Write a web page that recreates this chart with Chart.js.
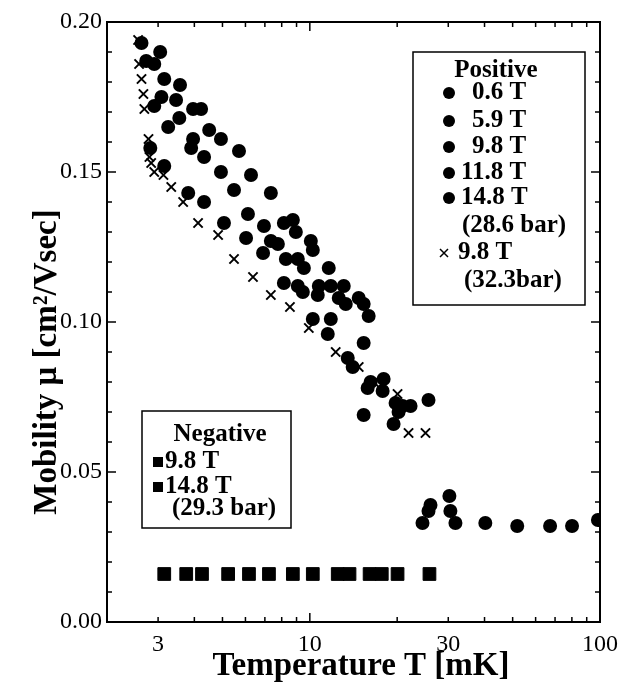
<!DOCTYPE html>
<html>
<head>
<meta charset="utf-8">
<script src="https://cdn.jsdelivr.net/npm/chart.js@4"></script>
<style>
    html, body { margin: 0; padding: 0; background: #fff; }
</style>
</head>
<body>
<canvas id="chart" width="621" height="690"></canvas>
<script>
// temperature [mK] and mobility [cm2/Vsec]
const tPos06 = [3.05, 3.57, 4.22, 4.50, 4.94, 5.70, 6.27, 7.34, 8.74, 8.95, 10.08, 11.62, 13.09, 14.74, 15.95,
    24.45, 26.05, 25.64, 30.27, 30.51, 31.75, 40.25, 51.85, 67.3, 80.1, 98.4];
const muPos06 = [0.190, 0.179, 0.171, 0.164, 0.161, 0.157, 0.149, 0.143, 0.134, 0.130, 0.127, 0.118, 0.112, 0.108, 0.102,
    0.033, 0.039, 0.037, 0.042, 0.037, 0.033, 0.033, 0.032, 0.032, 0.032, 0.034];

const tPos59 = [2.63, 2.91, 3.15, 3.46, 3.96, 4.32, 4.94, 6.12, 6.95, 8.14, 10.24, 11.81, 13.30, 15.33];
const muPos59 = [0.193, 0.186, 0.181, 0.174, 0.171, 0.155, 0.150, 0.136, 0.132, 0.133, 0.124, 0.112, 0.106, 0.106];

const tPos98 = [2.73, 3.08, 3.55, 3.96, 5.48, 7.76, 9.09, 9.54, 10.74, 12.58, 15.33, 17.96, 20.87, 25.64];
const muPos98 = [0.187, 0.175, 0.168, 0.161, 0.144, 0.126, 0.121, 0.118, 0.112, 0.108, 0.093, 0.081, 0.072, 0.074];

const tPos118 = [2.91, 3.25, 3.90, 5.06, 6.03, 7.34, 8.27, 9.09, 10.65, 11.81, 13.51, 16.20, 17.82, 19.75, 22.24, 20.22];
const muPos118 = [0.172, 0.165, 0.158, 0.133, 0.128, 0.127, 0.121, 0.112, 0.109, 0.101, 0.088, 0.080, 0.077, 0.073, 0.072, 0.070];

const tPos148 = [2.82, 3.15, 3.81, 4.32, 6.90, 8.14, 9.46, 10.24, 11.53, 14.05, 15.82, 15.33, 19.44];
const muPos148 = [0.158, 0.152, 0.143, 0.140, 0.123, 0.113, 0.110, 0.101, 0.096, 0.085, 0.078, 0.069, 0.066];

// crosses, 9.8 T at 32.3 bar
const tPos98hp = [2.56, 2.58, 2.63, 2.67, 2.69, 2.78, 2.80, 2.84, 2.91, 3.13, 3.33, 3.66, 4.12, 4.83, 5.48, 6.37,
    7.34, 8.54, 9.92, 12.28, 14.74, 16.60, 20.06, 21.89, 21.89, 25.04];
const muPos98hp = [0.194, 0.186, 0.181, 0.176, 0.171, 0.161, 0.155, 0.153, 0.150, 0.149, 0.145, 0.140, 0.133, 0.129, 0.121, 0.115,
    0.109, 0.105, 0.098, 0.090, 0.085, 0.080, 0.076, 0.072, 0.063, 0.063];

// negative ions
const tNeg98 = [3.15, 4.25, 6.17, 8.74, 12.48, 16.07, 20.06, 25.84];
const muNeg98 = [0.016, 0.016, 0.016, 0.016, 0.016, 0.016, 0.016, 0.016];
const tNeg148 = [3.75, 5.23, 7.23, 10.24, 13.7, 17.7];
const muNeg148 = [0.016, 0.016, 0.016, 0.016, 0.016, 0.016];

const xTickLabels = [3, 10, 30, 100];
const xMinorTicks = [2, 3, 4, 5, 6, 7, 8, 9, 10, 20, 30, 40, 50, 60, 70, 80, 90, 100];

const serif = "'Liberation Serif', 'Times New Roman', serif";

function zip(xs, ys) {
    return xs.map((x, i) => ({x: x, y: ys[i]}));
}

function dotSet(label, xs, ys) {
    return {
        label: label,
        data: zip(xs, ys),
        pointStyle: 'circle',
        pointRadius: 7,
        backgroundColor: '#000',
        borderColor: '#000',
        borderWidth: 0
    };
}

// frame + inward ticks on all four sides, axis titles, legend boxes
const frameTicks = {
    id: 'frameTicks',
    afterDatasetsDraw(chart) {
        const ctx = chart.ctx;
        const a = chart.chartArea;
        const xs = chart.scales.x, ys = chart.scales.y;
        ctx.save();
        ctx.strokeStyle = '#000';
        ctx.lineWidth = 2;
        ctx.strokeRect(a.left, a.top, a.right - a.left, a.bottom - a.top);
        ctx.lineWidth = 1.5;
        ctx.beginPath();
        xMinorTicks.forEach(v => {
            const px = xs.getPixelForValue(v);
            const len = (v === 10 || v === 100) ? 9 : 5;
            ctx.moveTo(px, a.bottom); ctx.lineTo(px, a.bottom - len);
            ctx.moveTo(px, a.top); ctx.lineTo(px, a.top + len);
        });
        for (let i = 0; i <= 20; i++) {
            const py = ys.getPixelForValue(i * 0.01);
            const len = (i % 5 === 0) ? 9 : 5;
            ctx.moveTo(a.left, py); ctx.lineTo(a.left + len, py);
            ctx.moveTo(a.right, py); ctx.lineTo(a.right - len, py);
        }
        ctx.stroke();
        ctx.restore();
    },
    afterDraw(chart) {
        const ctx = chart.ctx;
        ctx.save();
        ctx.fillStyle = '#000';
        ctx.strokeStyle = '#000';

        // axis titles
        ctx.font = 'bold 33px ' + serif;
        ctx.textAlign = 'center';
        ctx.textBaseline = 'middle';
        ctx.fillText('Temperature T [mK]', 361, 666);
        ctx.save();
        ctx.translate(47, 362);
        ctx.rotate(-Math.PI / 2);
        ctx.fillText('Mobility μ [cm²/Vsec]', 0, 0);
        ctx.restore();

        ctx.lineWidth = 1.5;
        ctx.font = 'bold 25px ' + serif;

        // positive legend box
        ctx.strokeRect(413, 52, 172, 253);
        ctx.textAlign = 'center';
        ctx.fillText('Positive', 496, 71);
        ctx.textAlign = 'left';
        const rows = [['0.6 T', 93, 472], ['5.9 T', 121, 472], ['9.8 T', 147, 472], ['11.8 T', 173, 461], ['14.8 T', 198, 461]];
        rows.forEach(r => {
            ctx.beginPath();
            ctx.arc(449, r[1], 6, 0, Math.PI * 2);
            ctx.fill();
            ctx.fillText(r[0], r[2], r[1]);
        });
        ctx.fillText('(28.6 bar)', 462, 226);
        ctx.beginPath();
        ctx.moveTo(440, 249); ctx.lineTo(448, 257);
        ctx.moveTo(448, 249); ctx.lineTo(440, 257);
        ctx.stroke();
        ctx.fillText('9.8 T', 458, 253);
        ctx.fillText('(32.3bar)', 464, 281);

        // negative legend box
        ctx.strokeRect(142, 411, 149, 117);
        ctx.textAlign = 'center';
        ctx.fillText('Negative', 220, 435);
        ctx.textAlign = 'left';
        ctx.fillRect(153, 457, 10, 10);
        ctx.fillText('9.8 T', 165, 462);
        ctx.fillRect(153, 482, 10, 10);
        ctx.fillText('14.8 T', 165, 487);
        ctx.fillText('(29.3 bar)', 172, 509);
        ctx.restore();
    }
};

const ctx = document.getElementById('chart').getContext('2d');
const myChart = new Chart(ctx, {
    type: 'scatter',
    data: {
        datasets: [
            dotSet('0.6 T', tPos06, muPos06),
            dotSet('5.9 T', tPos59, muPos59),
            dotSet('9.8 T', tPos98, muPos98),
            dotSet('11.8 T', tPos118, muPos118),
            dotSet('14.8 T', tPos148, muPos148),
            {
                label: '9.8 T (32.3bar)',
                data: zip(tPos98hp, muPos98hp),
                pointStyle: 'crossRot',
                pointRadius: 6.5,
                borderColor: '#000',
                backgroundColor: '#000',
                borderWidth: 2
            },
            {
                label: 'neg 9.8 T',
                data: zip(tNeg98, muNeg98),
                pointStyle: 'rect',
                pointRadius: 9,
                borderColor: '#000',
                backgroundColor: '#000',
                borderWidth: 1
            },
            {
                label: 'neg 14.8 T',
                data: zip(tNeg148, muNeg148),
                pointStyle: 'rect',
                pointRadius: 9,
                borderColor: '#000',
                backgroundColor: '#000',
                borderWidth: 1
            }
        ]
    },
    options: {
        responsive: false,
        animation: false,
        devicePixelRatio: 1,
        layout: {padding: {top: 22, right: 21, left: 0, bottom: 0}},
        plugins: {
            legend: {display: false},
            tooltip: {enabled: false}
        },
        scales: {
            x: {
                type: 'logarithmic',
                min: 2,
                max: 100,
                grid: {display: false, drawTicks: false},
                border: {display: false},
                afterBuildTicks: s => { s.ticks = xTickLabels.map(v => ({value: v})); },
                afterFit: s => { s.height = 68; s.paddingRight = 0; s.paddingLeft = 0; },
                ticks: {
                    autoSkip: false,
                    maxRotation: 0,
                    padding: 8,
                    color: '#000',
                    font: {family: serif, size: 24},
                    callback: v => String(v)
                }
            },
            y: {
                min: 0,
                max: 0.2,
                grid: {display: false, drawTicks: false},
                border: {display: false},
                afterFit: s => { s.width = 107; s.paddingTop = 0; s.paddingBottom = 0; },
                ticks: {
                    stepSize: 0.05,
                    padding: 5,
                    color: '#000',
                    font: {family: serif, size: 24},
                    callback: v => v.toFixed(2)
                }
            }
        }
    },
    plugins: [frameTicks]
});
</script>
</body>
</html>
